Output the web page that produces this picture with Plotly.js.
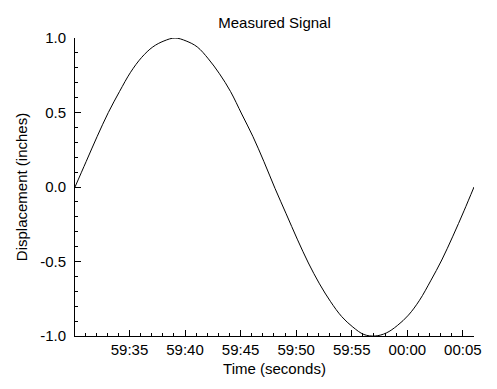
<!DOCTYPE html>
<html>
<head>
<meta charset="utf-8">
<script src="https://cdn.plot.ly/plotly-3.0.1.min.js"></script>
<style>html,body{margin:0;padding:0;background:#fff;}#chart{width:497px;height:389px;}</style>
</head>
<body>
<div id="chart"></div>
<script>
// Sample times and measured displacement
var times = [
  "2024-01-01 10:59:30.1","2024-01-01 10:59:31.1","2024-01-01 10:59:32.1","2024-01-01 10:59:33.1",
  "2024-01-01 10:59:34.1","2024-01-01 10:59:35.1","2024-01-01 10:59:36.1","2024-01-01 10:59:37.1",
  "2024-01-01 10:59:38.1","2024-01-01 10:59:39.1","2024-01-01 10:59:40.1","2024-01-01 10:59:41.1",
  "2024-01-01 10:59:42.1","2024-01-01 10:59:43.1","2024-01-01 10:59:44.1","2024-01-01 10:59:45.1",
  "2024-01-01 10:59:46.1","2024-01-01 10:59:47.1","2024-01-01 10:59:48.1","2024-01-01 10:59:49.1",
  "2024-01-01 10:59:50.1","2024-01-01 10:59:51.1","2024-01-01 10:59:52.1","2024-01-01 10:59:53.1",
  "2024-01-01 10:59:54.1","2024-01-01 10:59:55.1","2024-01-01 10:59:56.1","2024-01-01 10:59:57.1",
  "2024-01-01 10:59:58.1","2024-01-01 10:59:59.1","2024-01-01 11:00:00.1","2024-01-01 11:00:01.1",
  "2024-01-01 11:00:02.1","2024-01-01 11:00:03.1","2024-01-01 11:00:04.1","2024-01-01 11:00:05.1",
  "2024-01-01 11:00:06.0"
];
var displacement = [
  0.00, 0.17, 0.34, 0.50, 0.64, 0.77, 0.87, 0.94, 0.98, 1.00,
  0.98, 0.94, 0.86, 0.76, 0.64, 0.49, 0.34, 0.17, -0.01, -0.18,
  -0.35, -0.51, -0.65, -0.77, -0.87, -0.94, -0.99, -1.00, -0.98, -0.93,
  -0.86, -0.76, -0.63, -0.49, -0.33, -0.16, 0.00
];
var xRange = ["2024-01-01 10:59:30.1", "2024-01-01 11:00:06.0"];
var yRange = [-1, 1];
var yTickVals = [-1, -0.5, 0, 0.5, 1];
var yTickText = ["-1.0", "-0.5", "0.0", "0.5", "1.0"];
var titleText = "Measured Signal";
var xTitle = "Time (seconds)";
var yTitle = "Displacement (inches)";

var font = "Liberation Sans, Arial, Helvetica, sans-serif";
var trace = {
  x: times, y: displacement, type: "scatter", mode: "lines",
  line: {color: "#000", width: 1, shape: "spline"}, hoverinfo: "skip"
};
var layout = {
  width: 497, height: 389,
  margin: {l: 75, r: 23, t: 38, b: 53},
  paper_bgcolor: "#fff", plot_bgcolor: "#fff",
  showlegend: false,
  font: {family: font, size: 15, color: "#000"},
  title: {text: titleText, font: {family: font, size: 15, color: "#000"},
          x: 0.5, xref: "paper", y: 1, yref: "paper", yanchor: "bottom", pad: {b: 10}},
  xaxis: {
    type: "date", range: xRange,
    showline: true, linecolor: "#000", linewidth: 1, mirror: false,
    showgrid: false, zeroline: false,
    ticks: "inside", ticklen: 6, tickwidth: 1, tickcolor: "#000",
    tick0: "2024-01-01 10:59:35", dtick: 5000, tickformat: "%M:%S",
    tickfont: {family: font, size: 15, color: "#000"},
    minor: {ticks: "inside", ticklen: 3, tickwidth: 1, tickcolor: "#000", dtick: 1000, tick0: "2024-01-01 10:59:35", showgrid: false},
    title: {text: xTitle, font: {family: font, size: 15, color: "#000"}, standoff: 6}
  },
  yaxis: {
    range: yRange,
    showline: true, linecolor: "#000", linewidth: 1, mirror: false,
    showgrid: false, zeroline: false,
    ticks: "inside", ticklen: 6, tickwidth: 1, tickcolor: "#000",
    tickmode: "array", tickvals: yTickVals, ticktext: yTickText,
    ticklabelstandoff: 5,
    tickfont: {family: font, size: 15, color: "#000"},
    minor: {ticks: "inside", ticklen: 3, tickwidth: 1, tickcolor: "#000", dtick: 0.1, tick0: 0, showgrid: false},
    title: {text: yTitle, font: {family: font, size: 15, color: "#000"}, standoff: 8}
  }
};
Plotly.newPlot("chart", [trace], layout, {staticPlot: true, displayModeBar: false});
</script>
</body>
</html>
